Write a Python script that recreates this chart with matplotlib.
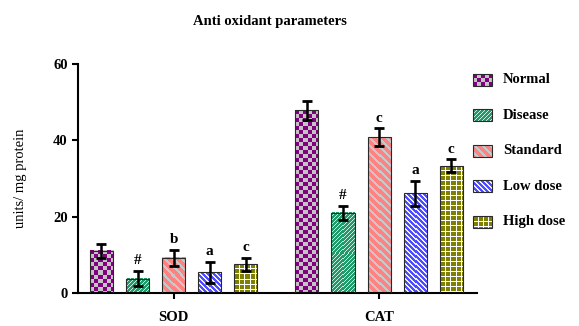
import numpy as np
import matplotlib
matplotlib.use("Agg")
import matplotlib.pyplot as plt
from matplotlib.patches import Rectangle

groups = ["SOD", "CAT"]
series = ["Normal", "Disease", "Standard", "Low dose", "High dose"]
sod_mean = [11.0, 3.8, 9.2, 5.4, 7.6]
sod_err = [1.8, 2.0, 2.2, 2.8, 1.7]
cat_mean = [47.8, 21.0, 40.8, 26.1, 33.3]
cat_err = [2.5, 1.8, 2.3, 3.3, 1.7]
sod_sig = ["", "#", "b", "a", "c"]
cat_sig = ["", "#", "c", "a", "c"]

means = [sod_mean, cat_mean]
errs = [sod_err, cat_err]
sigs = [sod_sig, cat_sig]

# (kind, base colour, pattern colour, period px, line px)
fills = [
    ("checker", "#800080", "#c4c4c4", 4, 0),
    ("slash", "#1f9a6a", "#d0ece0", 4, 1),
    ("back", "#ff8282", "#c8c8c8", 8, 3),
    ("back", "#4d4dff", "#f0f0ff", 5, 2),
    ("grid", "#808000", "#ffffff", 5, 1),
]


def rgb(c):
    return np.array(matplotlib.colors.to_rgb(c))


def texture(fill, w, h):
    kind, base, pat, per, lw = fill
    r, c = np.indices((max(h, 1), max(w, 1)))
    if kind == "checker":
        mask = ((r // per) + (c // per)) % 2 == 1
    elif kind == "slash":
        mask = (c + r) % per < lw
    elif kind == "back":
        mask = (c - r) % per < lw
    else:
        mask = (r % per < lw) | (c % per < lw)
    img = np.empty(mask.shape + (3,))
    img[:] = rgb(base)
    img[mask] = rgb(pat)
    return img


plt.rcParams["font.family"] = ["Liberation Serif", "DejaVu Serif"]
plt.rcParams["font.weight"] = "bold"

fig = plt.figure(figsize=(5.79, 3.26), dpi=100)
ax = fig.add_axes([0.1347, 0.101, 0.689, 0.703])

width = 0.64
centers = [0.0, 5.69]
xlim = (-2.65, 8.40)
ax.set_xlim(*xlim)
ax.set_ylim(0, 60)

for g, c in enumerate(centers):
    for i, s in enumerate(series):
        x = c + (i - 2)
        m = means[g][i]
        x0, x1 = x - width / 2, x + width / 2
        p0 = ax.transData.transform((x0, 0))
        p1 = ax.transData.transform((x1, m))
        img = texture(fills[i], int(round(p1[0] - p0[0])), int(round(p1[1] - p0[1])))
        ax.imshow(img, extent=(x0, x1, 0, m), origin="upper", aspect="auto",
                  interpolation="nearest", zorder=2)
        ax.bar(x, m, width, facecolor="none", edgecolor="#2a2a2a", linewidth=0.8, zorder=3)
        ax.errorbar(x, m, yerr=errs[g][i], fmt="none", ecolor="black", elinewidth=1.8,
                    capsize=3.8, capthick=2.0, zorder=4)
        if sigs[g][i]:
            ax.text(x, m + errs[g][i] + 1.0, sigs[g][i], ha="center", va="bottom",
                    fontsize=11)

ax.set_xlim(*xlim)
ax.set_ylim(0, 60)
ax.set_xticks(centers)
ax.set_xticklabels(groups, fontsize=10.5)
ax.set_yticks([0, 20, 40, 60])
ax.tick_params(axis="y", labelsize=10.5, width=1.5, length=4)
ax.tick_params(axis="x", width=1.5, length=4, pad=9)
ax.spines["top"].set_visible(False)
ax.spines["right"].set_visible(False)
ax.spines["left"].set_linewidth(1.5)
ax.spines["bottom"].set_linewidth(1.5)
ax.set_ylabel("units/ mg protein", fontsize=10.5, labelpad=19)
fig.suptitle("Anti oxidant parameters", x=0.467, y=0.955, fontsize=10.5, fontweight="bold")

# legend, laid out in pixel units of the right margin
lax = fig.add_axes([465 / 579, 1 - 240 / 326, 114 / 579, 180 / 326])
lax.set_xlim(465, 579)
lax.set_ylim(240, 60)
lax.axis("off")
sw, sh = 19, 12
for i, s in enumerate(series):
    yc = 80 + i * 35.5
    lax.imshow(texture(fills[i], sw, sh), extent=(473, 473 + sw, yc + sh / 2, yc - sh / 2),
               origin="upper", aspect="auto", interpolation="nearest")
    lax.add_patch(Rectangle((473, yc - sh / 2), sw, sh, facecolor="none",
                            edgecolor="#2a2a2a", linewidth=0.8))
    lax.text(503, yc, s, ha="left", va="center", fontsize=10.5)
lax.set_xlim(465, 579)
lax.set_ylim(240, 60)

fig.savefig("out.png", dpi=100)
